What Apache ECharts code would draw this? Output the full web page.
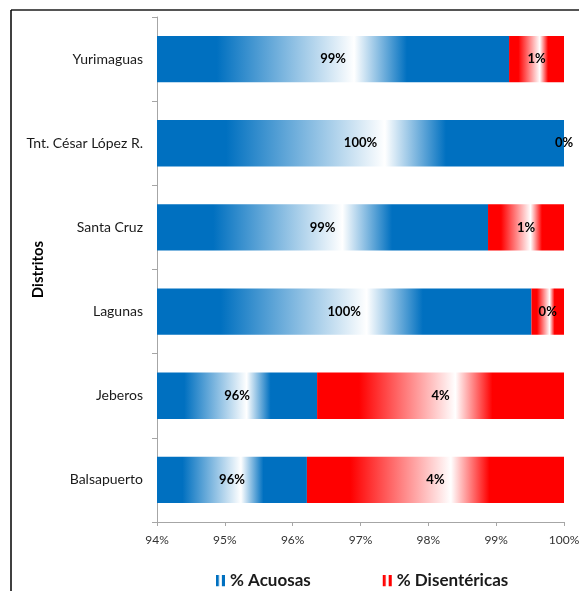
<!DOCTYPE html>
<html>
<head>
<meta charset="utf-8">
<script src="https://cdn.jsdelivr.net/npm/echarts@6/dist/echarts.min.js"></script>
<style>
  html, body { margin: 0; padding: 0; background: #fff; }
  #chart { width: 579px; height: 591px; }
</style>
</head>
<body>
<div id="chart"></div>
<script>
// distritos, de arriba hacia abajo
const categories = ['Yurimaguas', 'Tnt. César López R.', 'Santa Cruz', 'Lagunas', 'Jeberos', 'Balsapuerto'];
const acuosas = [99.19, 100, 98.88, 99.52, 96.36, 96.21];
const disentericas = [0.81, 0, 1.12, 0.48, 3.64, 3.79];
const labelsAcuosas = ['99%', '100%', '99%', '100%', '96%', '96%'];
const labelsDisent = ['1%', '0%', '1%', '0%', '4%', '4%'];
const xTicks = [94, 95, 96, 97, 98, 99, 100];

const FONT = 'Lato, sans-serif';

function banda(c) {
  return new echarts.graphic.LinearGradient(0, 0, 1, 0, [
    { offset: 0, color: c },
    { offset: 0.17, color: c },
    { offset: 0.56, color: '#ffffff' },
    { offset: 0.71, color: c },
    { offset: 1, color: c }
  ]);
}

const chart = echarts.init(document.getElementById('chart'));

chart.setOption({
  animation: false,
  grid: { left: 157, right: 15, top: 17, bottom: 69, outerBoundsMode: 'none', containLabel: false },
  legend: {
    left: 211,
    top: 567,
    itemWidth: 9,
    itemHeight: 14,
    itemGap: 72,
    icon: 'path://M0,0H3V10H0Z M5,0H8V10H5Z',
    textStyle: { fontFamily: FONT, fontSize: 17, fontWeight: 'bold', color: '#1a1a1a' },
    data: ['% Acuosas', '% Disentéricas']
  },
  xAxis: {
    type: 'value',
    min: xTicks[0],
    max: xTicks[xTicks.length - 1],
    interval: 1,
    axisLine: { show: true, lineStyle: { color: '#a6a6a6' } },
    axisTick: { show: true, length: 4, lineStyle: { color: '#a6a6a6' } },
    splitLine: { show: false },
    axisLabel: { formatter: '{value}%', fontFamily: FONT, fontSize: 12, color: '#333', margin: 12 }
  },
  yAxis: {
    type: 'category',
    inverse: true,
    data: categories,
    name: 'Distritos',
    nameLocation: 'middle',
    nameRotate: 90,
    nameGap: 111,
    nameMoveOverlap: false,
    nameTextStyle: { fontFamily: FONT, fontSize: 15, fontWeight: 'bold', color: '#000' },
    axisLine: { show: true, lineStyle: { color: '#a6a6a6' } },
    axisTick: { show: true, length: 5, lineStyle: { color: '#a6a6a6' } },
    axisLabel: { fontFamily: FONT, fontSize: 14, color: '#1a1a1a', margin: 14 }
  },
  series: [
    {
      name: '% Acuosas',
      type: 'bar',
      stack: 'total',
      barWidth: '55%',
      data: acuosas,
      itemStyle: { color: banda('#0070C0') },
      label: {
        show: true,
        position: 'inside',
        formatter: p => labelsAcuosas[p.dataIndex],
        fontFamily: FONT, fontSize: 13, fontWeight: 'bold', color: '#000'
      }
    },
    {
      name: '% Disentéricas',
      type: 'bar',
      stack: 'total',
      barWidth: '55%',
      data: disentericas,
      itemStyle: { color: banda('#FF0000') },
      label: {
        show: true,
        position: 'inside',
        formatter: p => labelsDisent[p.dataIndex],
        fontFamily: FONT, fontSize: 13, fontWeight: 'bold', color: '#000'
      }
    }
  ],
  graphic: [
    { type: 'line', shape: { x1: 11, y1: 10, x2: 579, y2: 10 }, style: { stroke: '#555', lineWidth: 2 } },
    { type: 'line', shape: { x1: 11, y1: 10, x2: 11, y2: 591 }, style: { stroke: '#000', lineWidth: 1.5 } }
  ]
});
</script>
</body>
</html>
